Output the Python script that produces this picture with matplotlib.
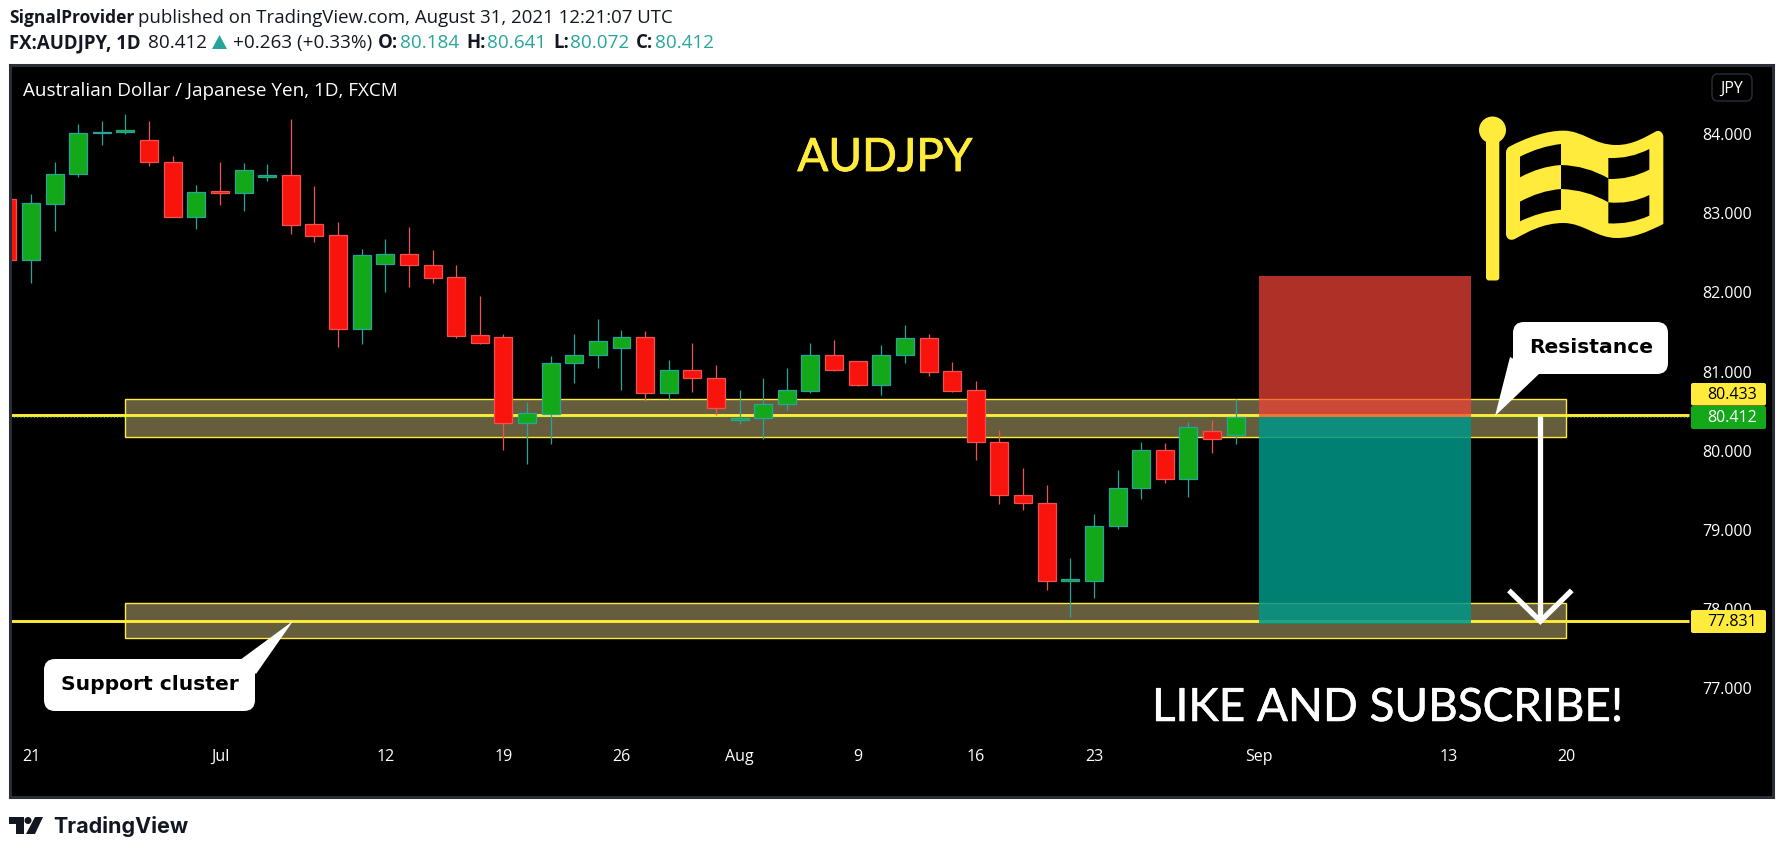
import matplotlib
matplotlib.use("Agg")
import matplotlib.pyplot as plt
import matplotlib.patheffects as pe
from matplotlib.patches import FancyBboxPatch, PathPatch, Polygon, Circle, Rectangle
from matplotlib.path import Path

W, H = 1783, 854

# daily candles, index 0 is the bar cut off by the left edge
opens = [83.17, 82.40, 83.11, 83.49, 84.00, 84.02, 83.91, 83.64, 82.94, 83.27,
         83.25, 83.45, 83.47, 82.85, 82.71, 81.52, 82.35, 82.47, 82.33, 82.18,
         81.45, 81.43, 80.34, 80.45, 81.10, 81.19, 81.29, 81.43, 80.72, 81.01,
         80.91, 80.38, 80.40, 80.58, 80.74, 81.19, 81.12, 80.82, 81.19, 81.41,
         80.99, 80.75, 80.10, 79.43, 79.32, 78.34, 78.34, 79.03, 79.52, 80.00,
         79.63, 80.23, 80.184]
highs = [83.17, 83.23, 83.64, 84.12, 84.15, 84.24, 84.15, 83.71, 83.35, 83.64,
         83.62, 83.61, 84.18, 83.33, 82.88, 82.54, 82.66, 82.81, 82.52, 82.33,
         81.94, 81.46, 80.60, 81.18, 81.46, 81.65, 81.51, 81.50, 81.13, 81.35,
         81.07, 80.75, 80.90, 81.03, 81.35, 81.39, 81.12, 81.32, 81.57, 81.46,
         81.11, 80.87, 80.25, 79.77, 79.55, 78.63, 79.19, 79.74, 80.10, 80.08,
         80.35, 80.38, 80.641]
lows = [82.40, 82.11, 82.76, 83.45, 83.85, 83.99, 83.58, 82.94, 82.79, 83.09,
        83.02, 83.40, 82.73, 82.63, 81.30, 81.33, 81.99, 82.06, 82.11, 81.41,
        81.34, 79.99, 79.82, 80.07, 80.84, 81.03, 80.75, 80.62, 80.63, 80.73,
        80.44, 80.32, 80.13, 80.50, 80.72, 80.99, 80.80, 80.69, 81.09, 80.93,
        80.73, 79.87, 79.31, 79.24, 78.22, 77.89, 78.12, 79.00, 79.38, 79.58,
        79.40, 79.96, 80.072]
closes = [82.40, 83.12, 83.49, 84.00, 84.02, 84.04, 83.64, 82.94, 83.26, 83.25,
          83.53, 83.47, 82.84, 82.70, 81.52, 82.46, 82.47, 82.33, 82.17, 81.44,
          81.35, 80.34, 80.46, 81.10, 81.20, 81.37, 81.43, 80.72, 81.01, 80.91,
          80.52, 80.40, 80.58, 80.75, 81.19, 81.01, 80.82, 81.19, 81.41, 80.98,
          80.74, 80.10, 79.43, 79.32, 78.34, 78.36, 79.03, 79.52, 80.00, 79.63,
          80.29, 80.14, 80.412]

x_tick_bars = [1, 9, 16, 21, 26, 31, 36, 41, 46, 53, 61, 66]
x_tick_labels = ["21", "Jul", "12", "19", "26", "Aug", "9", "16", "23", "Sep", "13", "20"]
y_ticks = [77, 78, 79, 80, 81, 82, 83, 84]

resistance_zone = (80.16, 80.64)
support_zone = (77.62, 78.06)
zone_bars = (5, 66)
position_bars = (53, 61.95)
position_top, position_mid, position_bottom = 82.20, 80.412, 77.80
line_resistance, line_last, line_support = 80.433, 80.412, 77.831
arrow_bar = 64.9

GREEN, GREEN_WICK = "#12a81a", "#26a69a"
RED, RED_WICK = "#f8140c", "#ef5350"
YELLOW = "#ffeb3b"
FRAME = "#2a2e39"
DARK = "#131722"
TEAL = "#26a69a"
FONT = "Open Sans"

fig = plt.figure(figsize=(W / 100, H / 100), dpi=100, facecolor="white")
# price pane: x = 7.35 + 23.62 * bar, y = 134.2 + (84 - price) * 79.1 in pixels
ax = fig.add_axes([10 / W, (H - 798) / H, 1763 / W, 732.5 / H], facecolor="black")
ax.set_xlim(0.112, 74.75)
ax.set_ylim(75.608, 84.869)

for s in ax.spines.values():
    s.set_color(FRAME)
    s.set_linewidth(2.2)

ax.set_xticks(x_tick_bars, x_tick_labels)
ax.set_yticks(y_ticks, [f"{v:.3f}" for v in y_ticks])
ax.yaxis.tick_right()
ax.tick_params(axis="x", length=0, pad=-24, colors="white", labelsize=11.5)
ax.tick_params(axis="y", length=0, pad=-15, colors="white", labelsize=11.5)
for t in ax.get_xticklabels() + ax.get_yticklabels():
    t.set_fontfamily(FONT)
for t in ax.get_yticklabels():
    t.set_ha("right")
for t in ax.get_xticklabels():
    t.set_va("bottom")

# zones
for low, high in (resistance_zone, support_zone):
    ax.add_patch(Rectangle((zone_bars[0], low), zone_bars[1] - zone_bars[0], high - low,
                           facecolor="#ffeb96", alpha=0.4, edgecolor="none", zorder=1))
    ax.add_patch(Rectangle((zone_bars[0], low), zone_bars[1] - zone_bars[0], high - low,
                           facecolor="none", edgecolor=YELLOW, lw=1.0, zorder=1.1))

# horizontal levels
ax.plot([0.112, 71.2], [line_resistance] * 2, color=YELLOW, lw=2.1, zorder=1.5, solid_capstyle="butt")
ax.plot([0.112, 71.2], [line_support] * 2, color=YELLOW, lw=2.1, zorder=1.5, solid_capstyle="butt")
ax.plot([0.112, 71.2], [line_last] * 2, color=GREEN, lw=0.8, ls=(0, (1, 2)), zorder=1.6)

# short position box, sits over the zones and the levels
pw = position_bars[1] - position_bars[0]
ax.add_patch(Rectangle((position_bars[0], position_mid), pw, position_top - position_mid,
                       facecolor="#f44336", alpha=0.72, edgecolor="none", zorder=3))
ax.add_patch(Rectangle((position_bars[0], position_bottom), pw, position_mid - position_bottom,
                       facecolor="#009688", alpha=0.85, edgecolor="none", zorder=3))

# candles
for i in range(len(opens)):
    up = closes[i] >= opens[i]
    wick = GREEN_WICK if up else RED_WICK
    body = GREEN if up else RED
    ax.vlines(i, lows[i], highs[i], color=wick, lw=0.9, zorder=2)
    ax.bar(i, abs(closes[i] - opens[i]), bottom=min(opens[i], closes[i]), width=0.76,
           color=body, edgecolor=wick, linewidth=0.9, zorder=2.1)

# drawn arrow
ax.plot([arrow_bar, arrow_bar], [80.43, 77.86], color="white", lw=3.8, zorder=4, solid_capstyle="butt")
ax.plot([arrow_bar - 1.33, arrow_bar, arrow_bar + 1.33], [78.22, 77.83, 78.22], color="white", lw=3.8,
        zorder=4, solid_joinstyle="miter", solid_capstyle="butt")

# overlay in pixel coordinates for everything around the chart
ov = fig.add_axes([0, 0, 1, 1])
ov.set_xlim(0, W)
ov.set_ylim(H, 0)
ov.axis("off")
ov.patch.set_visible(False)


def price_box(y0, y1, face, label, color):
    ov.add_patch(FancyBboxPatch((1691, y0), 75, y1 - y0, boxstyle="round,pad=0,rounding_size=2",
                                facecolor=face, edgecolor="none"))
    ov.text(1757, (y0 + y1) / 2, label, color=color, ha="right", va="center", fontsize=11.5, family=FONT)


price_box(384, 406.5, YELLOW, "80.433", "black")
price_box(407, 430, GREEN, "80.412", "white")
price_box(611, 634, YELLOW, "77.831", "black")

ov.add_patch(FancyBboxPatch((1712, 75), 40, 27, boxstyle="round,pad=0,rounding_size=6",
                            facecolor="black", edgecolor=FRAME, lw=1))
ov.text(1732, 88.5, "JPY", color="white", ha="center", va="center", fontsize=11.5, family=FONT)

ov.text(23, 91.5, "Australian Dollar / Japanese Yen, 1D, FXCM", color="white", va="center",
        fontsize=13.6, family=FONT)
thick_y = [pe.withStroke(linewidth=0.6, foreground=YELLOW)]
thick_w = [pe.withStroke(linewidth=0.4, foreground="white")]
ov.text(885, 159, "AUDJPY", color=YELLOW, ha="center", va="center", fontsize=33, family="Lato", path_effects=thick_y)
ov.text(1388, 709, "LIKE AND SUBSCRIBE!", color="white", ha="center", va="center", fontsize=33, family="Lato",
        path_effects=thick_w)

# callouts
ov.add_patch(Polygon([(1510, 358), (1495, 417), (1540, 374)], facecolor="white", edgecolor="none"))
ov.add_patch(FancyBboxPatch((1513, 323), 155, 52, boxstyle="round,pad=0,rounding_size=11",
                            facecolor="white", edgecolor="none"))
ov.text(1591, 348, "Resistance", color="black", ha="center", va="center", fontsize=14.6, weight="bold",
        family="DejaVu Sans")
ov.add_patch(Polygon([(240, 661), (293, 622), (256, 675)], facecolor="white", edgecolor="none"))
ov.add_patch(FancyBboxPatch((44, 660), 211, 52, boxstyle="round,pad=0,rounding_size=11",
                            facecolor="white", edgecolor="none"))
ov.text(149.5, 685, "Support cluster", color="black", ha="center", va="center", fontsize=14.6, weight="bold",
        family="DejaVu Sans")


def fx(v):
    return 1400 + v / 3


def fy(v):
    return 60 + v / 3


def flag_path(points, codes):
    return Path([(fx(a), fy(b)) for a, b in points], codes)


C4, C3, L, M = Path.CURVE4, Path.CURVE3, Path.LINETO, Path.MOVETO
outer = [(326, 264), (380, 235), (440, 215), (490, 215), (550, 215), (580, 258), (650, 258),
         (700, 258), (740, 232), (768, 217), (780, 212), (790, 222), (790, 234), (790, 495),
         (740, 520), (700, 537), (650, 537), (590, 537), (550, 492), (490, 492), (430, 492),
         (380, 520), (348, 538), (332, 548), (318, 540), (318, 524), (318, 280), (318, 270),
         (326, 264)]
outer_codes = [M, C4, C4, C4, C4, C4, C4, C4, C4, C4, C4, C4, C4, L,
               C4, C4, C4, C4, C4, C4, C4, C4, C4, C4, C4, C4, L, C3, C3]
ov.add_patch(PathPatch(flag_path(outer, outer_codes), facecolor=YELLOW, edgecolor="none"))
cells = [
    [(360, 293), (420, 262), (483, 255), (483, 318), (420, 322), (360, 355)],
    [(483, 318), (560, 320), (625, 358), (625, 430), (560, 392), (483, 390)],
    [(625, 297), (690, 300), (748, 270), (748, 332), (690, 362), (625, 360)],
    [(360, 428), (420, 395), (483, 390), (483, 452), (420, 458), (360, 487)],
    [(625, 430), (690, 437), (748, 408), (748, 470), (690, 497), (625, 493)],
]
for c in cells:
    ov.add_patch(PathPatch(flag_path(c, [M, C3, C3, L, C3, C3]), facecolor="black", edgecolor="none"))
ov.add_patch(FancyBboxPatch((1486, 130), 13.3, 151.5, boxstyle="round,pad=0,rounding_size=3",
                            facecolor=YELLOW, edgecolor="none"))
ov.add_patch(Circle((1492.5, 131), 13.5, facecolor=YELLOW, edgecolor="none"))

# header
ov.text(9, 18, "SignalProvider", color=DARK, va="center", fontsize=12.5, weight="bold", family=FONT)
ov.text(138, 18, "published on TradingView.com, August 31, 2021 12:21:07 UTC", color=DARK, va="center",
        fontsize=13.4, family=FONT)
ov.text(9, 43, "FX:AUDJPY, 1D", color=DARK, va="center", fontsize=13.4, weight="bold", family=FONT)
ov.text(148, 43, "80.412", color=DARK, va="center", fontsize=13.6, family=FONT)
ov.add_patch(Polygon([(212, 50), (219.5, 36), (227, 50)], facecolor=TEAL, edgecolor="none"))
ov.text(233, 43, "+0.263 (+0.33%)", color=DARK, va="center", fontsize=13.6, family=FONT)
for x_key, key, x_val, val in [(378, "O:", 400, "80.184"), (466, "H:", 487, "80.641"),
                               (553, "L:", 570, "80.072"), (636, "C:", 655, "80.412")]:
    ov.text(x_key, 43, key, color=DARK, va="center", fontsize=13.4, weight="bold", family=FONT)
    ov.text(x_val, 43, val, color=TEAL, va="center", fontsize=13.6, family=FONT)

# logo
ov.add_patch(Polygon([(9, 818), (24, 818), (24, 835), (16, 835), (16, 825), (9, 825)], facecolor=DARK, edgecolor="none"))
ov.add_patch(Circle((28, 821.5), 3.5, facecolor=DARK, edgecolor="none"))
ov.add_patch(Polygon([(35, 818), (43, 818), (35, 835), (26, 835)], facecolor=DARK, edgecolor="none"))
ov.text(53, 827, "TradingView", color=DARK, va="center", fontsize=15.5, weight="bold", family="Inter")

fig.savefig("out.png", dpi=100)
